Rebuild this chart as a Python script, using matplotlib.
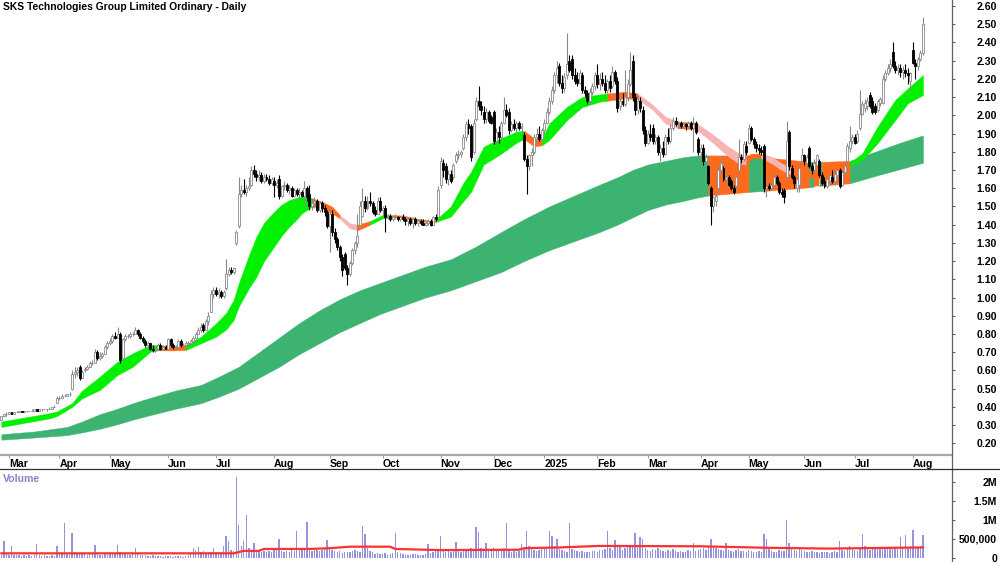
"""SKS Technologies daily candles with GMMA-style bands and volume."""

import matplotlib.pyplot as plt
import numpy as np
import pandas as pd
from matplotlib.lines import Line2D

plt.rcParams["font.family"] = ["Liberation Sans", "DejaVu Sans"]

TITLE = "SKS Technologies Group Limited Ordinary - Daily"
ASX_HOLIDAYS = [
    "2024-03-29", "2024-04-01", "2024-04-25", "2024-06-10", "2024-12-25", "2024-12-26",
    "2025-01-01", "2025-01-27", "2025-04-18", "2025-04-21", "2025-04-25", "2025-06-09",
]

opens = [
    .33, .35, .36, .36, .37, .36, .37, .37, .38, .37,
    .38, .38, .38, .38, .39, .38, .39, .39, .39, .39,
    .39, .40, .42, .45, .45, .46, .46, .47, .50, .58,
    .59, .62, .56, .60, .61, .62, .64, .64, .70, .67,
    .68, .69, .73, .75, .76, .79, .78, .80, .67, .77,
    .79, .79, .80, .80, .82, .80, .78, .76, .74, .75,
    .72, .71, .72, .74, .72, .73, .72, .77, .74, .73,
    .73, .76, .74, .74, .75, .75, .76, .78, .80, .82,
    .85, .82, .87, .92, 1.02, 1.04, 1.02, 1.03, 1.01, 1.05,
    1.13, 1.15, 1.14, 1.30, 1.39, 1.57, 1.59, 1.58, 1.60, 1.62,
    1.70, 1.68, 1.66, 1.67, 1.64, 1.66, 1.65, 1.63, 1.64, 1.62,
    1.65, 1.56, 1.61, 1.62, 1.59, 1.60, 1.56, 1.59, 1.57, 1.58,
    1.56, 1.60, 1.57, 1.50, 1.52, 1.53, 1.48, 1.52, 1.49, 1.47,
    1.39, 1.46, 1.36, 1.32, 1.28, 1.22, 1.24, 1.16, 1.13, 1.19,
    1.26, 1.30, 1.40, 1.45, 1.53, 1.49, 1.53, 1.52, 1.48, 1.46,
    1.53, 1.48, 1.49, 1.44, 1.45, 1.43, 1.44, 1.44, 1.43, 1.44,
    1.43, 1.42, 1.43, 1.41, 1.43, 1.41, 1.42, 1.41, 1.40, 1.41,
    1.42, 1.40, 1.44, 1.44, 1.62, 1.74, 1.72, 1.65, 1.68, 1.66,
    1.75, 1.78, 1.79, 1.82, 1.88, 1.95, 1.94, 1.80, 1.98, 2.08,
    2.05, 2.02, 1.98, 2.02, 1.99, 2.02, 1.86, 1.91, 1.88, 1.96,
    2.03, 2.02, 1.92, 1.95, 1.93, 1.96, 1.93, 1.89, 1.76, 1.72,
    1.78, 1.80, 1.88, 1.90, 1.87, 1.92, 1.96, 2.02, 2.08, 2.14,
    2.22, 2.27, 2.18, 2.15, 2.22, 2.30, 2.31, 2.22, 2.20, 2.18,
    2.22, 2.14, 2.12, 2.08, 2.13, 2.16, 2.22, 2.17, 2.20, 2.18,
    2.14, 2.19, 2.16, 2.24, 2.19, 2.05, 2.08, 2.06, 2.10, 2.17,
    2.30, 2.10, 2.03, 2.08, 2.03, 1.92, 1.85, 1.90, 1.93, 1.86,
    1.88, 1.80, 1.82, 1.79, 1.88, 1.86, 1.93, 1.97, 1.95, 1.96,
    1.94, 1.95, 1.94, 1.96, 1.93, 1.96, 1.87, 1.80, 1.82, 1.75,
    1.72, 1.60, 1.50, 1.53, 1.60, 1.70, 1.71, 1.65, 1.66, 1.64,
    1.60, 1.61, 1.70, 1.77, 1.76, 1.83, 1.85, 1.93, 1.87, 1.84,
    1.82, 1.81, 1.83, 1.60, 1.61, 1.60, 1.62, 1.66, 1.63, 1.58,
    1.59, 1.66, 1.91, 1.71, 1.66, 1.60, 1.62, 1.75, 1.78, 1.74,
    1.82, 1.72, 1.70, 1.73, 1.75, 1.67, 1.64, 1.61, 1.64, 1.66,
    1.64, 1.67, 1.70, 1.62, 1.69, 1.75, 1.82, 1.86, 1.88, 1.86,
    1.93, 2.01, 2.04, 2.05, 2.11, 2.08, 2.05, 2.03, 2.07, 2.07,
    2.20, 2.23, 2.26, 2.35, 2.27, 2.25, 2.26, 2.24, 2.25, 2.23,
    2.19, 2.36, 2.29, 2.27, 2.31, 2.34,
]
highs = [
    .35, .36, .37, .37, .37, .37, .38, .38, .38, .38,
    .38, .38, .39, .39, .39, .39, .39, .39, .39, .40,
    .40, .41, .46, .46, .47, .47, .47, .48, .60, .62,
    .62, .63, .60, .62, .63, .65, .66, .72, .71, .70,
    .70, .74, .76, .78, .80, .81, .84, .81, .78, .80,
    .80, .81, .81, .84, .83, .81, .79, .77, .76, .75,
    .74, .73, .75, .75, .74, .74, .78, .78, .75, .74,
    .77, .77, .75, .76, .76, .77, .79, .81, .84, .86,
    .86, .88, .92, 1.04, 1.06, 1.06, 1.05, 1.04, 1.04, 1.21,
    1.17, 1.17, 1.17, 1.37, 1.66, 1.62, 1.65, 1.62, 1.66, 1.72,
    1.73, 1.70, 1.70, 1.69, 1.68, 1.68, 1.67, 1.66, 1.66, 1.65,
    1.67, 1.62, 1.64, 1.63, 1.62, 1.61, 1.60, 1.60, 1.60, 1.59,
    1.64, 1.61, 1.62, 1.54, 1.55, 1.54, 1.53, 1.53, 1.51, 1.48,
    1.49, 1.48, 1.38, 1.33, 1.29, 1.24, 1.25, 1.18, 1.20, 1.27,
    1.31, 1.46, 1.53, 1.60, 1.56, 1.56, 1.58, 1.53, 1.50, 1.55,
    1.55, 1.50, 1.51, 1.46, 1.46, 1.45, 1.46, 1.45, 1.45, 1.46,
    1.44, 1.44, 1.44, 1.44, 1.44, 1.43, 1.43, 1.43, 1.42, 1.43,
    1.43, 1.45, 1.46, 1.61, 1.77, 1.76, 1.74, 1.70, 1.70, 1.74,
    1.80, 1.81, 1.81, 1.90, 1.97, 1.98, 1.95, 1.98, 2.10, 2.16,
    2.08, 2.05, 2.04, 2.03, 2.00, 2.03, 1.93, 1.94, 1.97, 2.10,
    2.06, 2.04, 1.97, 1.98, 1.97, 1.97, 1.96, 1.91, 1.78, 1.79,
    1.82, 1.90, 1.93, 1.94, 1.93, 1.98, 2.04, 2.10, 2.16, 2.24,
    2.30, 2.29, 2.22, 2.23, 2.45, 2.33, 2.33, 2.26, 2.24, 2.25,
    2.24, 2.16, 2.14, 2.15, 2.18, 2.24, 2.28, 2.23, 2.24, 2.22,
    2.20, 2.22, 2.27, 2.25, 2.21, 2.10, 2.12, 2.25, 2.20, 2.35,
    2.33, 2.12, 2.11, 2.10, 2.05, 1.94, 1.92, 1.95, 1.95, 1.90,
    1.89, 1.84, 1.86, 1.90, 1.93, 1.95, 1.99, 1.99, 1.97, 1.97,
    1.96, 1.96, 1.97, 1.97, 1.99, 1.97, 1.88, 1.84, 1.84, 1.79,
    1.73, 1.61, 1.56, 1.58, 1.72, 1.77, 1.72, 1.68, 1.67, 1.65,
    1.62, 1.67, 1.87, 1.79, 1.86, 1.86, 1.95, 1.94, 1.88, 1.86,
    1.84, 1.83, 1.84, 1.62, 1.63, 1.63, 1.68, 1.67, 1.64, 1.60,
    1.60, 1.97, 1.92, 1.73, 1.67, 1.66, 1.72, 1.82, 1.79, 1.79,
    1.83, 1.74, 1.76, 1.79, 1.76, 1.69, 1.66, 1.66, 1.68, 1.70,
    1.69, 1.71, 1.71, 1.70, 1.73, 1.85, 1.94, 1.90, 1.90, 1.92,
    2.14, 2.08, 2.09, 2.10, 2.13, 2.10, 2.07, 2.09, 2.10, 2.22,
    2.25, 2.28, 2.31, 2.40, 2.30, 2.28, 2.28, 2.27, 2.28, 2.26,
    2.24, 2.40, 2.31, 2.32, 2.36, 2.54,
]
lows = [
    .33, .35, .35, .36, .36, .36, .37, .37, .37, .37,
    .37, .38, .38, .38, .38, .38, .38, .39, .38, .39,
    .39, .40, .42, .44, .45, .46, .46, .46, .49, .56,
    .57, .55, .56, .59, .60, .62, .63, .64, .66, .66,
    .67, .69, .72, .74, .75, .77, .78, .64, .66, .76,
    .78, .78, .79, .80, .79, .77, .75, .73, .72, .71,
    .70, .70, .71, .71, .71, .72, .72, .73, .72, .72,
    .73, .73, .73, .73, .74, .74, .75, .77, .80, .81,
    .81, .82, .85, .92, 1.00, 1.01, 1.00, 1.00, 1.00, 1.04,
    1.12, 1.13, 1.13, 1.29, 1.38, 1.55, 1.57, 1.56, 1.59, 1.61,
    1.66, 1.64, 1.64, 1.63, 1.63, 1.64, 1.62, 1.62, 1.55, 1.60,
    1.54, 1.55, 1.59, 1.58, 1.57, 1.55, 1.55, 1.56, 1.53, 1.55,
    1.50, 1.53, 1.48, 1.48, 1.49, 1.47, 1.47, 1.47, 1.45, 1.38,
    1.25, 1.34, 1.30, 1.26, 1.20, 1.12, 1.15, 1.07, 1.12, 1.18,
    1.24, 1.28, 1.39, 1.44, 1.47, 1.48, 1.50, 1.46, 1.45, 1.46,
    1.47, 1.45, 1.36, 1.43, 1.42, 1.42, 1.43, 1.42, 1.42, 1.42,
    1.40, 1.39, 1.40, 1.38, 1.40, 1.39, 1.40, 1.40, 1.39, 1.40,
    1.39, 1.40, 1.42, 1.44, 1.60, 1.66, 1.63, 1.62, 1.63, 1.65,
    1.74, 1.76, 1.77, 1.81, 1.86, 1.90, 1.75, 1.79, 1.97, 2.03,
    2.00, 1.96, 1.96, 1.96, 1.95, 1.84, 1.84, 1.85, 1.87, 1.95,
    1.99, 1.90, 1.91, 1.92, 1.91, 1.92, 1.91, 1.75, 1.57, 1.70,
    1.72, 1.79, 1.85, 1.86, 1.86, 1.90, 1.95, 2.01, 2.06, 2.12,
    2.18, 2.16, 2.12, 2.13, 2.20, 2.24, 2.20, 2.17, 2.16, 2.17,
    2.12, 2.10, 2.06, 2.06, 2.11, 2.14, 2.15, 2.14, 2.16, 2.12,
    2.12, 2.13, 2.15, 2.17, 2.02, 2.03, 2.05, 2.05, 2.08, 2.16,
    2.08, 2.00, 2.01, 2.02, 1.90, 1.83, 1.84, 1.86, 1.84, 1.84,
    1.78, 1.75, 1.77, 1.78, 1.84, 1.85, 1.92, 1.94, 1.93, 1.93,
    1.93, 1.92, 1.93, 1.92, 1.80, 1.90, 1.78, 1.76, 1.73, 1.72,
    1.62, 1.40, 1.47, 1.50, 1.58, 1.68, 1.64, 1.62, 1.61, 1.59,
    1.57, 1.60, 1.69, 1.74, 1.75, 1.78, 1.84, 1.86, 1.82, 1.80,
    1.79, 1.78, 1.58, 1.55, 1.59, 1.59, 1.61, 1.62, 1.57, 1.55,
    1.52, 1.65, 1.70, 1.65, 1.60, 1.58, 1.58, 1.74, 1.73, 1.72,
    1.71, 1.68, 1.69, 1.72, 1.66, 1.62, 1.60, 1.60, 1.62, 1.63,
    1.62, 1.65, 1.60, 1.61, 1.67, 1.74, 1.80, 1.84, 1.84, 1.85,
    1.92, 2.00, 2.02, 2.03, 2.04, 2.01, 2.01, 2.02, 2.05, 2.06,
    2.19, 2.22, 2.24, 2.26, 2.23, 2.22, 2.21, 2.20, 2.21, 2.17,
    2.14, 2.28, 2.20, 2.25, 2.30, 2.33,
]
closes = [
    .35, .36, .36, .37, .36, .37, .37, .38, .37, .38,
    .38, .38, .38, .39, .38, .39, .39, .39, .39, .39,
    .40, .40, .45, .45, .46, .46, .47, .47, .58, .59,
    .60, .56, .59, .61, .62, .64, .64, .70, .67, .68,
    .69, .73, .75, .76, .79, .78, .80, .66, .77, .79,
    .79, .80, .80, .82, .80, .78, .76, .74, .75, .72,
    .71, .72, .74, .72, .73, .72, .77, .74, .73, .73,
    .76, .74, .74, .75, .75, .76, .78, .80, .82, .84,
    .82, .87, .90, 1.02, 1.04, 1.02, 1.03, 1.01, 1.03, 1.13,
    1.15, 1.14, 1.16, 1.36, 1.57, 1.59, 1.58, 1.60, 1.61, 1.70,
    1.68, 1.66, 1.67, 1.64, 1.66, 1.65, 1.63, 1.65, 1.62, 1.63,
    1.56, 1.61, 1.62, 1.59, 1.60, 1.56, 1.59, 1.57, 1.58, 1.56,
    1.60, 1.55, 1.50, 1.52, 1.53, 1.48, 1.52, 1.49, 1.47, 1.39,
    1.46, 1.36, 1.32, 1.28, 1.22, 1.15, 1.16, 1.13, 1.19, 1.26,
    1.30, 1.34, 1.50, 1.53, 1.49, 1.53, 1.52, 1.47, 1.46, 1.53,
    1.48, 1.49, 1.44, 1.45, 1.43, 1.44, 1.44, 1.43, 1.44, 1.43,
    1.42, 1.43, 1.41, 1.43, 1.41, 1.42, 1.41, 1.40, 1.41, 1.42,
    1.40, 1.44, 1.43, 1.59, 1.75, 1.70, 1.65, 1.68, 1.64, 1.73,
    1.78, 1.79, 1.80, 1.88, 1.95, 1.93, 1.77, 1.96, 2.08, 2.05,
    2.03, 1.98, 2.02, 1.97, 1.96, 1.86, 1.91, 1.88, 1.96, 2.03,
    2.00, 1.92, 1.95, 1.93, 1.96, 1.93, 1.94, 1.76, 1.72, 1.78,
    1.80, 1.88, 1.90, 1.87, 1.92, 1.96, 2.02, 2.08, 2.14, 2.22,
    2.26, 2.18, 2.15, 2.21, 2.28, 2.25, 2.22, 2.19, 2.18, 2.23,
    2.14, 2.12, 2.08, 2.13, 2.16, 2.22, 2.17, 2.20, 2.18, 2.14,
    2.19, 2.15, 2.24, 2.19, 2.04, 2.08, 2.06, 2.10, 2.17, 2.25,
    2.10, 2.03, 2.08, 2.04, 1.92, 1.85, 1.90, 1.88, 1.86, 1.88,
    1.80, 1.82, 1.79, 1.88, 1.86, 1.93, 1.97, 1.95, 1.96, 1.94,
    1.95, 1.94, 1.96, 1.93, 1.95, 1.91, 1.80, 1.82, 1.75, 1.77,
    1.63, 1.50, 1.55, 1.56, 1.70, 1.74, 1.65, 1.66, 1.62, 1.60,
    1.58, 1.66, 1.77, 1.76, 1.84, 1.80, 1.93, 1.87, 1.84, 1.82,
    1.81, 1.80, 1.60, 1.61, 1.60, 1.62, 1.66, 1.63, 1.58, 1.57,
    1.55, 1.86, 1.72, 1.66, 1.63, 1.65, 1.71, 1.78, 1.75, 1.77,
    1.72, 1.70, 1.74, 1.78, 1.67, 1.63, 1.61, 1.65, 1.67, 1.64,
    1.68, 1.70, 1.61, 1.69, 1.72, 1.83, 1.86, 1.88, 1.85, 1.90,
    2.01, 2.06, 2.07, 2.08, 2.05, 2.02, 2.02, 2.08, 2.09, 2.20,
    2.23, 2.26, 2.28, 2.27, 2.25, 2.26, 2.24, 2.25, 2.23, 2.22,
    2.23, 2.29, 2.27, 2.31, 2.34, 2.50,
]

# volume in thousands of shares
volume_k = [
    60, 440, 90, 70, 320, 80, 60, 70, 50, 60,
    40, 60, 50, 70, 370, 80, 50, 60, 40, 50,
    60, 50, 300, 120, 90, 910, 100, 80, 660, 150,
    110, 90, 120, 100, 80, 110, 90, 330, 100, 80,
    70, 90, 80, 110, 100, 120, 330, 140, 90, 100,
    80, 70, 90, 260, 100, 80, 70, 60, 50, 40,
    60, 50, 40, 50, 30, 40, 50, 40, 30, 40,
    50, 40, 30, 40, 80, 120, 260, 200, 280, 150,
    180, 120, 140, 160, 260, 150, 130, 140, 300, 570,
    430, 200, 180, 2130, 860, 300, 430, 1120, 250, 200,
    400, 180, 160, 150, 170, 140, 180, 160, 190, 200,
    500, 180, 160, 170, 150, 200, 180, 700, 190, 210,
    200, 930, 220, 180, 200, 190, 170, 200, 220, 460,
    250, 200, 180, 150, 170, 130, 150, 160, 140, 180,
    200, 180, 150, 840, 620, 250, 180, 140, 100, 120,
    90, 100, 120, 80, 110, 130, 640, 150, 120, 100,
    80, 60, 70, 90, 100, 60, 80, 70, 90, 360,
    120, 150, 180, 200, 580, 200, 150, 180, 160, 190,
    410, 170, 150, 220, 240, 200, 260, 230, 810, 680,
    250, 200, 380, 240, 220, 250, 200, 180, 230, 250,
    920, 200, 160, 180, 150, 170, 360, 220, 700, 300,
    250, 200, 180, 190, 220, 260, 280, 700, 560, 300,
    500, 240, 200, 180, 160, 920, 220, 200, 180, 150,
    170, 160, 150, 140, 180, 170, 150, 200, 190, 220,
    700, 250, 200, 460, 300, 280, 200, 250, 300, 280,
    320, 640, 300, 540, 480, 250, 200, 180, 220, 200,
    250, 200, 180, 150, 200, 180, 220, 170, 150, 180,
    160, 150, 200, 170, 400, 180, 200, 220, 250, 200,
    300, 500, 280, 250, 220, 200, 180, 400, 200, 180,
    150, 200, 220, 180, 170, 150, 200, 180, 160, 150,
    170, 160, 630, 500, 220, 180, 150, 160, 200, 180,
    170, 1000, 400, 250, 200, 180, 220, 200, 180, 160,
    150, 170, 140, 160, 130, 150, 160, 140, 120, 150,
    170, 160, 450, 200, 180, 250, 300, 220, 200, 180,
    250, 620, 300, 220, 200, 250, 270, 240, 230, 260,
    280, 250, 220, 260, 240, 230, 550, 280, 600, 250,
    300, 720, 250, 280, 300, 600,
]
avg_vol_bar = [0, 92, 96, 102, 104, 122, 130, 138, 154, 156, 174, 205, 207, 221, 237, 277, 304, 328, 340, 365]
avg_vol_k = [115, 115, 180, 180, 230, 230, 250, 290, 290, 230, 200, 210, 250, 270, 310, 300, 260, 240, 250, 270]

# short-term band (fast EMAs), read at these bar numbers
short_bar = [
    0, 19, 22, 28, 32, 39, 46, 52, 59, 62, 68, 73, 79, 85, 89, 92, 94, 98, 101, 104,
    108, 111, 114, 117, 119, 123, 127, 131, 134, 138, 141, 143, 146, 151, 154, 159, 165, 170, 172, 178,
    183, 186, 191, 198, 204, 207, 211, 214, 217, 224, 230, 237, 240, 247, 252, 258, 263, 268, 275, 282,
    288, 292, 295, 297, 301, 305, 309, 313, 320, 328, 336, 341, 347, 354, 359, 365,
]
short_top = [
    0.32, 0.365, 0.375, 0.42, 0.49, 0.566, 0.648, 0.694, 0.74, 0.738,
    0.735, 0.74, 0.785, 0.858, 0.915, 0.987, 1.078, 1.23, 1.334, 1.41,
    1.471, 1.51, 1.535, 1.548, 1.553, 1.545, 1.526, 1.499, 1.453, 1.408,
    1.40, 1.408, 1.42, 1.453, 1.453, 1.45, 1.432, 1.422, 1.425, 1.50,
    1.63, 1.69, 1.828, 1.875, 1.91, 1.915, 1.874, 1.87, 1.956, 2.047,
    2.10, 2.115, 2.12, 2.13, 2.12, 2.057, 1.992, 1.965, 1.96, 1.892,
    1.828, 1.792, 1.775, 1.79, 1.79, 1.773, 1.737, 1.709, 1.69, 1.68,
    1.74, 1.792, 1.938, 2.084, 2.148, 2.221,
]
short_bottom = [
    0.29, 0.337, 0.35, 0.40, 0.447, 0.493, 0.575, 0.62, 0.703, 0.71,
    0.71, 0.712, 0.749, 0.785, 0.825, 0.877, 0.95, 1.05, 1.114, 1.20,
    1.279, 1.34, 1.389, 1.43, 1.462, 1.499, 1.49, 1.462, 1.435, 1.38,
    1.37, 1.38, 1.40, 1.435, 1.44, 1.44, 1.422, 1.412, 1.415, 1.444,
    1.53, 1.58, 1.73, 1.79, 1.85, 1.87, 1.83, 1.835, 1.865, 1.974,
    2.045, 2.075, 2.08, 2.093, 2.09, 2.03, 1.956, 1.929, 1.925, 1.847,
    1.773, 1.737, 1.73, 1.764, 1.765, 1.737, 1.70, 1.673, 1.66, 1.65,
    1.72, 1.755, 1.847, 1.974, 2.066, 2.112,
]
# trend state between consecutive readings: u = up, m = mixed, d = down
short_state = list(
    "uuuuuuuuu" "mm" "uuuuuuuuuuuuuu" "mmm" "dd" "mm" "uu" "mmmm" "uuuuuuu"
    "mm" "uuuuu" "mm" "ddd" "m" "dddd" "mm" "ddd" "mmm" "uuuuu"
)

# long-term band (slow EMAs)
long_bar = [0, 13, 26, 32, 39, 46, 52, 59, 69, 79, 86, 94, 102, 110, 118, 126, 134, 142, 150, 158,
            168, 178, 188, 198, 207, 217, 227, 237, 244, 250, 256, 263, 270, 276, 280, 296, 302, 320,
            322, 324, 325, 336, 348, 356, 365]
long_top = [0.25, 0.265, 0.29, 0.32, 0.36, 0.39, 0.42, 0.45, 0.49, 0.52, 0.565, 0.62, 0.70, 0.78,
            0.86, 0.93, 0.99, 1.04, 1.08, 1.12, 1.17, 1.21, 1.28, 1.36, 1.43, 1.50, 1.56, 1.62,
            1.66, 1.70, 1.73, 1.75, 1.77, 1.78, 1.78, 1.78, 1.77, 1.745, 1.745, 1.745, 1.745,
            1.75, 1.81, 1.85, 1.89]
long_bottom = [0.22, 0.232, 0.245, 0.26, 0.28, 0.305, 0.33, 0.355, 0.39, 0.42, 0.455, 0.50, 0.56,
               0.62, 0.69, 0.75, 0.81, 0.86, 0.91, 0.95, 1.00, 1.04, 1.09, 1.14, 1.20, 1.26, 1.31,
               1.36, 1.40, 1.44, 1.48, 1.51, 1.53, 1.55, 1.56, 1.58, 1.585, 1.605, 1.61, 1.61,
               1.615, 1.627, 1.675, 1.705, 1.74]
long_state = list("u" * 34 + "mumumumuuu")

STATE_COLORS = {"u": "#00f000", "m": "#ff6a1c", "d": "#f6b4b4"}
LONG_COLORS = {"u": "#3cb371", "m": "#ff6a1c", "d": "#f6b4b4"}


def draw_band(ax, bars, top, bottom, states, palette, zorder):
    bars = np.asarray(bars, dtype=float)
    top = np.asarray(top)
    bottom = np.asarray(bottom)
    start = 0
    for k in range(1, len(states) + 1):
        if k == len(states) or states[k] != states[start]:
            sl = slice(start, k + 1)
            color = palette[states[start]]
            ax.fill_between(bars[sl], bottom[sl], top[sl], color=color, lw=0.3,
                            edgecolor=color, zorder=zorder)
            start = k


def main() -> None:
    o = np.array(opens)
    h = np.array(highs)
    lo = np.array(lows)
    c = np.array(closes)
    n = len(c)
    x = np.arange(n)
    dates = pd.bdate_range("2024-02-27", periods=n, freq="C", holidays=ASX_HOLIDAYS)

    fig = plt.figure(figsize=(10, 5.62), dpi=100)
    ax = fig.add_axes([0, 107 / 562, 0.952, 455 / 562])
    axv = fig.add_axes([0, 0, 0.952, 93 / 562])

    draw_band(ax, long_bar, long_top, long_bottom, long_state, LONG_COLORS, 1)
    draw_band(ax, short_bar, short_top, short_bottom, short_state, STATE_COLORS, 2)

    up = c >= o
    ax.vlines(x[up], lo[up], h[up], color="#8a8a8a", lw=0.8, zorder=3)
    ax.vlines(x[~up], lo[~up], h[~up], color="black", lw=0.8, zorder=3)
    ax.bar(x[up], c[up] - o[up], bottom=o[up], width=0.78, color="white",
           edgecolor="#8a8a8a", lw=0.6, zorder=4)
    ax.bar(x[~up], c[~up] - o[~up], bottom=o[~up], width=0.78, color="black",
           edgecolor="black", lw=0.6, zorder=4)

    xlim = (-0.55, 376.5)
    ax.set_xlim(*xlim)
    ax.set_ylim(0.136, 2.633)

    months = dates.to_period("M")
    starts = np.flatnonzero(months[1:] != months[:-1]) + 1
    labels = ["2025" if dates[i].month == 1 else dates[i].strftime("%b") for i in starts]
    ax.set_xticks(starts)
    ax.set_xticklabels(labels, fontsize=7.6, fontweight="bold", ha="left")
    ax.tick_params(axis="x", length=2.5, width=0.8, color="#a0a0a0", pad=0.5)

    ax.yaxis.tick_right()
    ticks = np.round(np.arange(0.2, 2.61, 0.1), 2)
    ax.set_yticks(ticks)
    ax.set_yticklabels([f"{t:.2f}" for t in ticks], fontsize=7.6, fontweight="bold", ha="right")
    ax.tick_params(axis="y", length=2.2, width=0.8, color="#606060", pad=30.2)

    for side in ("top", "left", "right"):
        ax.spines[side].set_visible(False)
    ax.spines["bottom"].set_color("#a8a8a8")
    ax.spines["bottom"].set_linewidth(1.6)

    axv.bar(x, np.array(volume_k) * 1000, width=0.55, color="#9494dc", lw=0, zorder=2)
    axv.plot(avg_vol_bar, np.array(avg_vol_k) * 1000, color="#ff3030", lw=1.6, zorder=3)
    axv.set_xlim(*xlim)
    axv.set_ylim(-113000, 2334000)
    axv.set_xticks([])
    axv.yaxis.tick_right()
    vticks = [0, 500000, 1000000, 1500000, 2000000]
    axv.set_yticks(vticks)
    axv.set_yticklabels(["0", "500,000", "1M", "1.5M", "2M"], fontsize=7.6,
                        fontweight="bold", ha="right")
    axv.tick_params(axis="y", length=2.2, width=0.8, color="#606060", pad=30.2)
    for side in ("top", "left", "right", "bottom"):
        axv.spines[side].set_visible(False)
    axv.text(0.003, 0.95, "Volume", transform=axv.transAxes, color="#8585c8",
             fontsize=7.6, fontweight="bold", va="top", ha="left")

    fig.add_artist(Line2D([0.952, 0.952], [0, 1], transform=fig.transFigure,
                          color="#606060", lw=0.9))
    fig.add_artist(Line2D([0, 1], [93 / 562, 93 / 562], transform=fig.transFigure,
                          color="#303030", lw=0.9))

    fig.text(0.003, 1 - 2 / 562, TITLE, fontsize=7.4, fontweight="bold", va="top", ha="left")

    fig.savefig("out.png", dpi=100)


if __name__ == "__main__":
    main()
